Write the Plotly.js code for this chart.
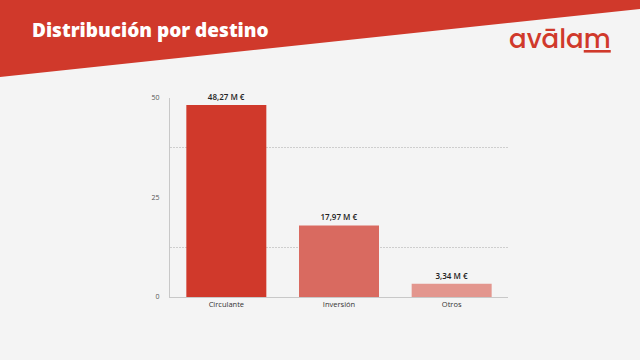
<!DOCTYPE html>
<html><head><meta charset="utf-8">
<script src="https://cdn.plot.ly/plotly-3.0.1.min.js"></script>
<style>html,body{margin:0;padding:0;background:#f4f4f4;}#chart{width:640px;height:360px;}</style>
</head><body><div id="chart"></div>
<script>
const categories = ["Circulante", "Inversión", "Otros"];
const values = [48.27, 17.97, 3.34];
const valueLabels = ["48,27 M €", "17,97 M €", "3,34 M €"];
const yTickVals = [0, 25, 50];
const yTickText = ["0", "25", "50"];
const yGridVals = [12.5, 37.5];

const L = 170, R = 132, T = 98, B = 63, W = 640, H = 360;
const pw = W - L - R, ph = H - T - B;
const px = x => (x - L) / pw;
const py = y => (H - B - y) / ph;
const FONT = "'Open Sans', Lato, sans-serif";

const trace = {
  type: "bar",
  x: categories,
  y: values,
  text: valueLabels,
  textposition: "outside",
  cliponaxis: false,
  textfont: {family: FONT, size: 8, color: "#222", weight: 600},
  marker: {color: ["#d0392b", "#d96a60", "#e3968e"]},
  hoverinfo: "none"
};

const layout = {
  width: W, height: H,
  margin: {l: L, r: R, t: T, b: B, pad: 0},
  paper_bgcolor: "#f4f4f4",
  plot_bgcolor: "#f4f4f4",
  bargap: 0.29,
  showlegend: false,
  title: {
    text: "Distribución por destino",
    x: 32 / W, xanchor: "left", xref: "container",
    y: 1 - 30 / H, yanchor: "middle", yref: "container",
    font: {family: FONT, size: 19, color: "#ffffff", weight: 800}
  },
  xaxis: {
    showline: true, linecolor: "#c8c8c8", linewidth: 1,
    showgrid: false, zeroline: false, ticks: "",
    tickfont: {family: FONT, size: 7.5, color: "#333"},
    fixedrange: true
  },
  yaxis: {
    range: [0, 50], showline: true, linecolor: "#c8c8c8", linewidth: 1,
    showgrid: false, zeroline: false, ticks: "",
    tickvals: yTickVals, ticktext: yTickText,
    tickfont: {family: FONT, size: 7, color: "#555"},
    ticklabelstandoff: 8,
    minor: {tickmode: "array", tickvals: yGridVals, ticks: "", showgrid: true, gridcolor: "#c4c4c4", griddash: "2px,1px", gridwidth: 0.8},
    fixedrange: true
  },
  shapes: [{
    type: "path", xref: "paper", yref: "paper", layer: "below",
    path: `M ${px(0)} ${py(0)} L ${px(640)} ${py(0)} L ${px(640)} ${py(9)} L ${px(0)} ${py(77)} Z`,
    fillcolor: "#d0392b", line: {width: 0}
  }],
  annotations: [{
    xref: "paper", yref: "paper", x: px(613), y: py(39), xanchor: "right", yanchor: "middle",
    showarrow: false,
    text: "avāla<span style='text-decoration:underline'>m</span>",
    font: {family: "Poppins, 'Noto Sans', 'Open Sans', sans-serif", size: 26, color: "#d0392b", weight: 500}
  }]
};

Plotly.newPlot("chart", [trace], layout, {staticPlot: true, displayModeBar: false});
</script></body></html>
